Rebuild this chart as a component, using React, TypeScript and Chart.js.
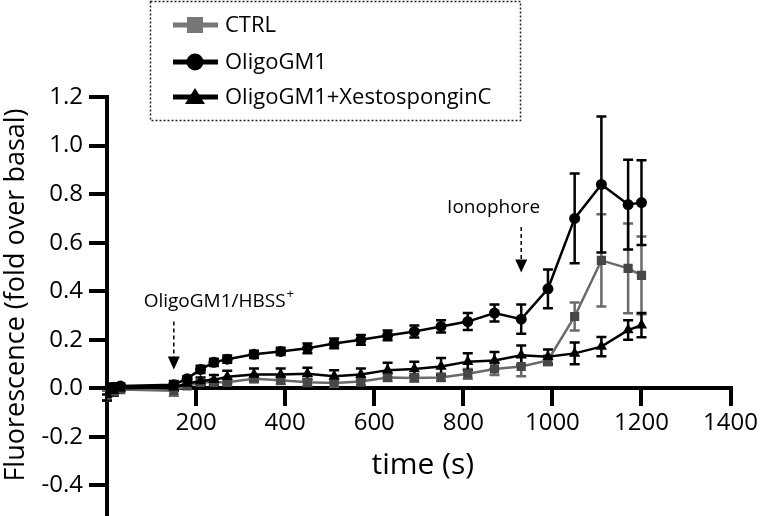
import React, { useEffect, useRef } from 'react';
import { Chart, registerables } from 'chart.js';

Chart.register(...registerables);

const FONT = '"Open Sans", "Noto Sans", sans-serif';

const times = [0, 15, 30, 150, 180, 210, 240, 270, 330, 390, 450, 510, 570, 630, 690, 750, 810, 870, 930, 990, 1050, 1110, 1170, 1200];

const ctrl = [-0.03, -0.015, -0.005, -0.01, 0.01, 0.025, 0.025, 0.025, 0.04, 0.033, 0.025, 0.022, 0.028, 0.045, 0.043, 0.045, 0.06, 0.08, 0.09, 0.115, 0.296, 0.527, 0.494, 0.465];
const ctrlErr = [0.02, 0.015, 0.01, 0.02, 0.01, 0.01, 0.01, 0.01, 0.015, 0.015, 0.015, 0.015, 0.015, 0.015, 0.015, 0.015, 0.02, 0.025, 0.04, 0.02, 0.058, 0.19, 0.185, 0.16];

const oligo = [-0.01, 0.005, 0.01, 0.015, 0.04, 0.078, 0.107, 0.12, 0.14, 0.152, 0.165, 0.185, 0.2, 0.218, 0.234, 0.255, 0.275, 0.31, 0.285, 0.41, 0.7, 0.84, 0.757, 0.765];
const oligoErr = [0.015, 0.015, 0.01, 0.015, 0.01, 0.015, 0.015, 0.015, 0.015, 0.015, 0.02, 0.02, 0.02, 0.02, 0.025, 0.025, 0.035, 0.035, 0.06, 0.08, 0.185, 0.28, 0.185, 0.175];

const xesto = [-0.025, -0.01, 0.0, 0.005, 0.02, 0.03, 0.035, 0.048, 0.057, 0.057, 0.06, 0.05, 0.057, 0.075, 0.08, 0.09, 0.11, 0.115, 0.136, 0.13, 0.144, 0.172, 0.24, 0.26];
const xestoErr = [0.025, 0.02, 0.015, 0.015, 0.015, 0.015, 0.02, 0.025, 0.025, 0.025, 0.025, 0.025, 0.025, 0.03, 0.03, 0.035, 0.035, 0.035, 0.04, 0.03, 0.045, 0.04, 0.04, 0.05];

const seriesNames = ['CTRL', 'OligoGM1', 'OligoGM1+XestosponginC'];
const xTicks = [200, 400, 600, 800, 1000, 1200, 1400];
const yTicks = [-0.4, -0.2, 0, 0.2, 0.4, 0.6, 0.8, 1.0, 1.2];

const xTitle = 'time (s)';
const yTitle = 'Fluorescence (fold over basal)';

// annotations: [label, superscript, textX, textY, arrowX, arrowTopY, arrowTipY]
const annotations: [string, string, number, number, number, number, number][] = [
  ['OligoGM1/HBSS', '+', 250, 0.358, 150, 0.275, 0.078],
  ['Ionophore', '', 868, 0.745, 930, 0.665, 0.477],
];

const CTRL_LINE = '#6a6a6a';
const CTRL_MARK = '#474747';

export default function App() {
  const ref = useRef<HTMLCanvasElement>(null);

  useEffect(() => {
    const canvas = ref.current;
    if (!canvas) return;
    const mk = (arr: number[]) => times.map((t, i) => ({ x: t, y: arr[i] }));

    const plugin = {
      id: 'extras',
      beforeDatasetsDraw(chart: any) {
        const { ctx, scales } = chart;
        const x = scales.x;
        const y = scales.y;
        const sets: [number[], number[], string][] = [
          [ctrl, ctrlErr, CTRL_LINE],
          [xesto, xestoErr, '#000'],
          [oligo, oligoErr, '#000'],
        ];
        ctx.save();
        sets.forEach(([vals, errs, col]) => {
          ctx.strokeStyle = col;
          ctx.lineWidth = 2.5;
          times.forEach((t, i) => {
            const px = x.getPixelForValue(t);
            const top = y.getPixelForValue(vals[i] + errs[i]);
            const bot = y.getPixelForValue(vals[i] - errs[i]);
            ctx.beginPath();
            ctx.moveTo(px, top);
            ctx.lineTo(px, bot);
            ctx.moveTo(px - 5, top);
            ctx.lineTo(px + 5, top);
            ctx.moveTo(px - 5, bot);
            ctx.lineTo(px + 5, bot);
            ctx.stroke();
          });
        });
        ctx.restore();
      },
      afterDraw(chart: any) {
        const { ctx, scales, chartArea } = chart;
        const x = scales.x;
        const y = scales.y;
        ctx.save();
        // annotations
        annotations.forEach(([label, sup, tx, ty, ax, aTop, aTip]) => {
          ctx.font = `19px ${FONT}`;
          ctx.fillStyle = '#000';
          ctx.textBaseline = 'middle';
          const w = ctx.measureText(label).width;
          ctx.font = `13px ${FONT}`;
          const sw = sup ? ctx.measureText(sup).width : 0;
          const cx = x.getPixelForValue(tx);
          const cy = y.getPixelForValue(ty);
          const start = cx - (w + sw) / 2;
          ctx.font = `19px ${FONT}`;
          ctx.textAlign = 'left';
          ctx.fillText(label, start, cy);
          if (sup) {
            ctx.font = `13px ${FONT}`;
            ctx.fillText(sup, start + w + 1, cy - 7);
          }
          const axp = x.getPixelForValue(ax);
          const topP = y.getPixelForValue(aTop);
          const tipP = y.getPixelForValue(aTip);
          ctx.strokeStyle = '#000';
          ctx.lineWidth = 1.5;
          ctx.setLineDash([4, 3]);
          ctx.beginPath();
          ctx.moveTo(axp, topP);
          ctx.lineTo(axp, tipP - 12);
          ctx.stroke();
          ctx.setLineDash([]);
          ctx.beginPath();
          ctx.moveTo(axp - 6, tipP - 13);
          ctx.lineTo(axp + 6, tipP - 13);
          ctx.lineTo(axp, tipP);
          ctx.closePath();
          ctx.fill();
        });

        // x title
        ctx.font = `30px ${FONT}`;
        ctx.textAlign = 'center';
        ctx.textBaseline = 'middle';
        ctx.fillStyle = '#000';
        ctx.fillText(xTitle, (chartArea.left + chartArea.right) / 2 + 4, 465);

        // y title
        ctx.save();
        ctx.translate(16, 295);
        ctx.rotate(-Math.PI / 2);
        ctx.font = `27px ${FONT}`;
        ctx.fillText(yTitle, 0, 0);
        ctx.restore();

        // legend
        ctx.strokeStyle = '#222';
        ctx.lineWidth = 1.5;
        ctx.setLineDash([2, 2]);
        ctx.strokeRect(150.5, 1.5, 370, 119);
        ctx.setLineDash([]);
        const rows = [25, 62, 97];
        rows.forEach((ry, i) => {
          const col = i === 0 ? '#777' : '#000';
          ctx.strokeStyle = col;
          ctx.fillStyle = col;
          ctx.lineWidth = 5;
          ctx.beginPath();
          ctx.moveTo(173, ry);
          ctx.lineTo(218, ry);
          ctx.stroke();
          const mx = 195;
          ctx.beginPath();
          if (i === 0) {
            ctx.rect(mx - 8, ry - 8, 16, 16);
          } else if (i === 1) {
            ctx.arc(mx, ry, 8.5, 0, Math.PI * 2);
          } else {
            ctx.moveTo(mx, ry - 9);
            ctx.lineTo(mx + 10, ry + 7);
            ctx.lineTo(mx - 10, ry + 7);
            ctx.closePath();
          }
          ctx.fill();
          ctx.fillStyle = '#000';
          ctx.font = `22px ${FONT}`;
          ctx.textAlign = 'left';
          ctx.textBaseline = 'middle';
          ctx.fillText(seriesNames[i], 225, ry + 1);
        });
        ctx.restore();
      },
    };

    const chart = new Chart(canvas, {
      type: 'line',
      data: {
        datasets: [
          {
            label: seriesNames[0],
            data: mk(ctrl),
            borderColor: CTRL_LINE,
            backgroundColor: CTRL_MARK,
            pointBackgroundColor: CTRL_MARK,
            pointBorderColor: CTRL_MARK,
            pointStyle: 'rect',
            pointRadius: 6.5,
            pointBorderWidth: 0,
            borderWidth: 2.5,
            order: 3,
          },
          {
            label: seriesNames[1],
            data: mk(oligo),
            borderColor: '#000',
            backgroundColor: '#000',
            pointBackgroundColor: '#000',
            pointBorderColor: '#000',
            pointStyle: 'circle',
            pointRadius: 5.5,
            pointBorderWidth: 0,
            borderWidth: 2.5,
            order: 1,
          },
          {
            label: seriesNames[2],
            data: mk(xesto),
            borderColor: '#000',
            backgroundColor: '#000',
            pointBackgroundColor: '#000',
            pointBorderColor: '#000',
            pointStyle: 'triangle',
            pointRadius: 6.5,
            pointBorderWidth: 0,
            borderWidth: 2.5,
            order: 2,
          },
        ],
      },
      options: {
        responsive: false,
        animation: false,
        events: [],
        layout: { padding: { top: 97, right: 30, bottom: 0, left: 0 } },
        plugins: { legend: { display: false }, tooltip: { enabled: false } },
        scales: {
          x: {
            type: 'linear',
            min: 0,
            max: 1400,
            position: { y: 0 } as any,
            afterBuildTicks: (s: any) => {
              s.ticks = xTicks.map((v) => ({ value: v }));
            },
            grid: {
              drawOnChartArea: false,
              drawTicks: true,
              tickLength: 16,
              tickWidth: 4,
              tickColor: '#000',
              lineWidth: 4,
              color: '#000',
            },
            border: { display: true, color: '#000', width: 4 },
            ticks: {
              color: '#000',
              font: { family: FONT, size: 24 },
              padding: 4,
              maxRotation: 0,
              autoSkip: false,
              callback: (v: any) => String(v),
            },
          },
          y: {
            type: 'linear',
            min: -0.52,
            max: 1.2,
            afterBuildTicks: (s: any) => {
              s.ticks = yTicks.map((v) => ({ value: v }));
            },
            afterFit: (s: any) => {
              s.width = 107;
            },
            grid: {
              drawOnChartArea: false,
              drawTicks: true,
              tickLength: 18,
              tickWidth: 4,
              tickColor: '#000',
              lineWidth: 4,
              color: '#000',
            },
            border: { display: true, color: '#000', width: 4 },
            ticks: {
              color: '#000',
              font: { family: FONT, size: 24 },
              padding: 6,
              callback: (v: any) => Number(v).toFixed(1),
            },
          },
        },
      },
      plugins: [plugin],
    } as any);

    return () => chart.destroy();
  }, []);

  return (
    <div style={{ position: 'absolute', left: 0, top: 0, width: 762, height: 516, overflow: 'hidden', background: '#fff' }}>
      <canvas ref={ref} width={762} height={535} style={{ width: 762, height: 535, display: 'block' }} />
    </div>
  );
}
